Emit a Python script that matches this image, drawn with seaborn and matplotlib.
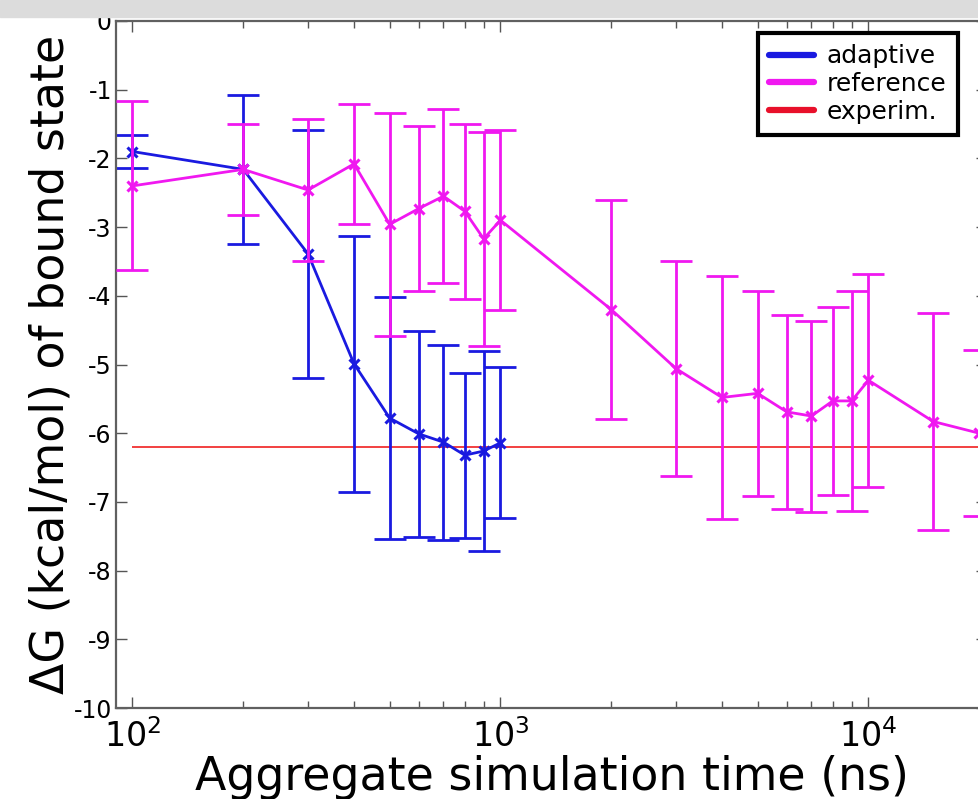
import numpy as np
import pandas as pd
import seaborn as sns
import matplotlib.pyplot as plt
from matplotlib.lines import Line2D
from matplotlib.patches import Rectangle

# data
adapt_x = [100, 200, 300, 400, 500, 600, 700, 800, 900, 1000]
adapt_y = [-1.90, -2.16, -3.39, -4.99, -5.78, -6.01, -6.13, -6.32, -6.26, -6.14]
adapt_err = [0.24, 1.08, 1.80, 1.86, 1.76, 1.50, 1.42, 1.20, 1.45, 1.10]

ref_x = [100, 200, 300, 400, 500, 600, 700, 800, 900, 1000,
         2000, 3000, 4000, 5000, 6000, 7000, 8000, 9000, 10000, 15000, 20000]
ref_y = [-2.40, -2.16, -2.46, -2.08, -2.96, -2.73, -2.55, -2.77, -3.17, -2.90,
         -4.20, -5.06, -5.48, -5.42, -5.69, -5.75, -5.53, -5.53, -5.23, -5.83, -6.00]
ref_err = [1.23, 0.66, 1.03, 0.87, 1.62, 1.20, 1.27, 1.27, 1.56, 1.31,
           1.60, 1.56, 1.77, 1.49, 1.41, 1.39, 1.37, 1.60, 1.55, 1.58, 1.21]

exp_value = -6.2

yticks = list(range(0, -11, -1))
xticks = [100, 1000, 10000]
xticklabels = ['$10^2$', '$10^3$', '$10^4$']

blue = '#1a1ae0'
magenta = '#f018f0'
red = '#f02020'

adapt = pd.DataFrame({'x': adapt_x, 'y': adapt_y})
ref = pd.DataFrame({'x': ref_x, 'y': ref_y})

sns.set_style('ticks')
plt.rcParams['font.family'] = ['DejaVu Sans']
plt.rcParams['axes.unicode_minus'] = False
plt.rcParams['mathtext.fontset'] = 'dejavusans'
plt.rcParams['text.color'] = 'black'
plt.rcParams['axes.labelcolor'] = 'black'

fig = plt.figure(figsize=(9.79, 7.99), dpi=100)
# grey band at the very top of the screenshot
fig.patches.append(Rectangle((0, 1 - 17 / 799), 1, 17 / 799, transform=fig.transFigure,
                             color='#dcdcdc', zorder=0))
ax = fig.add_axes([116 / 979, 1 - 708 / 799, (987 - 116) / 979, (708 - 21) / 799])
ax.set_xscale('log')

# experimental value
ax.hlines(exp_value, adapt_x[0], 1e5, color=red, lw=1.2, zorder=1)

# adaptive
ax.errorbar(adapt_x, adapt_y, yerr=adapt_err, fmt='none', ecolor=blue,
            elinewidth=2, capsize=11.5, capthick=2, zorder=2)
sns.lineplot(data=adapt, x='x', y='y', ax=ax, color=blue, lw=2, marker='x',
             markersize=7, markeredgewidth=2.2, markeredgecolor=blue, zorder=3)

# reference
ax.errorbar(ref_x, ref_y, yerr=ref_err, fmt='none', ecolor=magenta,
            elinewidth=2, capsize=11.5, capthick=2, zorder=4)
sns.lineplot(data=ref, x='x', y='y', ax=ax, color=magenta, lw=2, marker='x',
             markersize=7, markeredgewidth=2.2, markeredgecolor=magenta, zorder=5)

ax.set_xlim(90.2, 21000)
ax.set_ylim(-10, 0)
ax.set_yticks(yticks)
ax.set_yticklabels([str(t) for t in yticks], fontsize=17)
ax.set_xticks(xticks)
ax.set_xticklabels(xticklabels, fontsize=24)

ax.tick_params(which='both', direction='in', top=True, right=True, color='#555555',
               labelcolor='black')
ax.tick_params(which='major', length=8, width=1)
ax.tick_params(which='minor', length=5, width=1)
ax.tick_params(axis='x', which='major', pad=8)
ax.tick_params(axis='y', which='major', pad=3)
for s in ax.spines.values():
    s.set_color('#606060')
    s.set_linewidth(1.6)

ax.set_xlabel('Aggregate simulation time (ns)', fontsize=33, labelpad=1)
ax.set_ylabel('ΔG (kcal/mol) of bound state', fontsize=33, labelpad=0)

handles = [Line2D([], [], color=blue, lw=4.5),
           Line2D([], [], color=magenta, lw=4.5),
           Line2D([], [], color='#e8102a', lw=4.5)]
leg = ax.legend(handles, ['adaptive', 'reference', 'experim.'],
                loc='upper right', bbox_to_anchor=(958 / 979, 1 - 33 / 799),
                bbox_transform=fig.transFigure, fontsize=18, frameon=True,
                fancybox=False, handlelength=1.8, handletextpad=0.5,
                labelspacing=0.15, borderpad=0.45, borderaxespad=0)
leg.get_frame().set_edgecolor('black')
leg.get_frame().set_linewidth(3)
leg.get_frame().set_alpha(1)

fig.savefig('out.png', dpi=100)
